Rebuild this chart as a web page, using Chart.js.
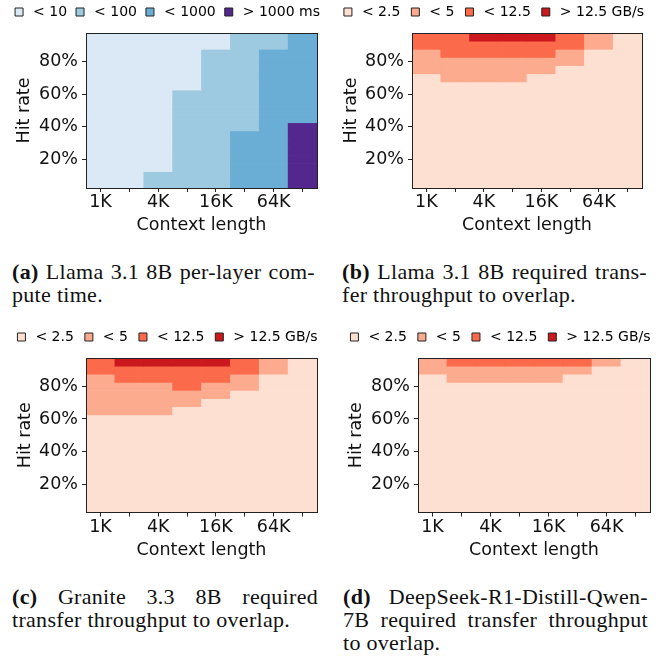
<!DOCTYPE html>
<html>
<head>
<meta charset="utf-8">
<script src="https://cdn.jsdelivr.net/npm/chart.js@4.4.1/dist/chart.umd.min.js"></script>
<style>
  html, body { margin: 0; padding: 0; background: #fff; }
  body { width: 660px; height: 663px; position: relative; overflow: hidden; }
  canvas { position: absolute; }
  .cap { position: absolute; font-family: "Liberation Serif", serif; font-size: 22px; line-height: 23px; color: #111; letter-spacing: 0.3px; }
  .cap div { text-align: left; }
  .cap .j { text-align: justify; text-align-last: justify; }
</style>
</head>
<body>
<canvas id="chartA" width="330" height="240" style="left:0;top:0"></canvas>
<canvas id="chartB" width="330" height="240" style="left:330px;top:0"></canvas>
<canvas id="chartC" width="330" height="240" style="left:0;top:325px"></canvas>
<canvas id="chartD" width="330" height="240" style="left:330px;top:325px"></canvas>

<div class="cap" style="left:12px;top:260px;width:303px">
  <div class="j"><b>(a)</b> Llama 3.1 8B per-layer com-</div>
  <div>pute time.</div>
</div>
<div class="cap" style="left:342px;top:260px;width:305px">
  <div class="j"><b>(b)</b> Llama 3.1 8B required trans-</div>
  <div>fer throughput to overlap.</div>
</div>
<div class="cap" style="left:12px;top:585px;width:306px">
  <div class="j"><b>(c)</b> Granite 3.3 8B required</div>
  <div>transfer throughput to overlap.</div>
</div>
<div class="cap" style="left:343px;top:585px;width:305px">
  <div class="j"><b>(d)</b> DeepSeek-R1-Distill-Qwen-</div>
  <div class="j">7B required transfer throughput</div>
  <div>to overlap.</div>
</div>

<script>
const contextLengths = ['1K', '2K', '4K', '8K', '16K', '32K', '64K', '128K'];
const contextTickLabels = ['1K', '4K', '16K', '64K'];
const hitRates = [95, 90, 85, 80, 75, 70, 65, 60, 55, 50, 45, 40, 35, 30, 25, 20, 15, 10, 5];
const hitRateTicks = [20, 40, 60, 80];

const computeBins = ['< 10', '< 100', '< 1000', '> 1000 ms'];
const throughputBins = ['< 2.5', '< 5', '< 12.5', '> 12.5 GB/s'];

// bin index of every cell: one string per hit-rate row (95% first),
// one digit per context length (1K ... 128K)
const llamaCompute = [
    '00000112', '00000112', '00001122', '00001122', '00001122', '00001122', '00001122',
    '00011122', '00011122', '00011122', '00011122', '00011123', '00011223', '00011223',
    '00011223', '00011223', '00011223', '00111223', '00111223'
];
const llamaTransfer = [
    '22333210', '22222210', '12222100', '11111100', '11111000', '01110000', '00000000',
    '00000000', '00000000', '00000000', '00000000', '00000000', '00000000', '00000000',
    '00000000', '00000000', '00000000', '00000000', '00000000'
];
const graniteTransfer = [
    '23333210', '22222210', '12222100', '11121100', '11111000', '11110000', '11100000',
    '00000000', '00000000', '00000000', '00000000', '00000000', '00000000', '00000000',
    '00000000', '00000000', '00000000', '00000000', '00000000'
];
const deepseekTransfer = [
    '12222210', '11111100', '01111000', '00000000', '00000000', '00000000', '00000000',
    '00000000', '00000000', '00000000', '00000000', '00000000', '00000000', '00000000',
    '00000000', '00000000', '00000000', '00000000', '00000000'
];

const blueColors = ['#dbe9f6', '#9ecae1', '#6aaed6', '#54278f'];
const redColors = ['#fee0d2', '#fcab8f', '#fb6a4a', '#cb181d'];

const FONT = "'DejaVu Sans', sans-serif";
const INK = '#111';
const SPINE = '#222';

function makeHeatmap(id, grid, bins, colors, lay) {
    const H = 240, W = 330;
    const legendPad = lay.legendPad;
    const padTop = 12 - 7 - legendPad;           // legend text centre at y=12
    const legendBottom = padTop + 24 + legendPad;

    const datasets = hitRates.map((h, r) => ({
        data: contextLengths.map(() => [h - 2.5, h + 2.5]),
        backgroundColor: grid[r].split('').map(c => colors[+c]),
        borderWidth: 0,
        grouped: false,
        barPercentage: 1,
        categoryPercentage: 1,
        xAxisID: 'x',
        yAxisID: 'y'
    }));

    new Chart(document.getElementById(id), {
        type: 'bar',
        data: { labels: contextLengths, datasets: datasets },
        options: {
            responsive: false,
            animation: false,
            events: [],
            layout: { padding: { left: lay.pl, right: lay.pr, top: padTop, bottom: 0 } },
            plugins: {
                tooltip: { enabled: false },
                legend: {
                    labels: {
                        usePointStyle: true,
                        pointStyle: 'rect',
                        boxWidth: 14,
                        boxHeight: 8,
                        padding: legendPad,
                        color: INK,
                        font: { family: FONT, size: 14 },
                        generateLabels: () => bins.map((b, i) => ({
                            text: b,
                            fillStyle: colors[i],
                            strokeStyle: SPINE,
                            lineWidth: 1,
                            pointStyle: 'rect',
                            hidden: false,
                            datasetIndex: i
                        }))
                    }
                }
            },
            scales: {
                x: {
                    type: 'category',
                    offset: true,
                    grid: { drawOnChartArea: false, drawTicks: true, tickLength: 4, tickColor: SPINE, tickWidth: 1, offset: false },
                    border: { display: true, color: SPINE, width: 1, z: 1 },
                    ticks: {
                        autoSkip: false, maxRotation: 0, padding: 0, color: INK,
                        font: { family: FONT, size: 17.5 },
                        callback: function (v) {
                            const l = this.getLabelForValue(v);
                            return contextTickLabels.includes(l) ? l : '';
                        }
                    },
                    title: { display: true, text: 'Context length', color: INK, font: { family: FONT, size: 17.5 }, padding: { top: 0, bottom: 4.5 } },
                    afterFit: s => { s.height = H - lay.bottom; }
                },
                y: {
                    type: 'linear',
                    min: 2.5,
                    max: 97.5,
                    afterBuildTicks: s => { s.ticks = hitRateTicks.map(v => ({ value: v })); },
                    grid: { drawOnChartArea: false, drawTicks: true, tickLength: 4, tickColor: SPINE, tickWidth: 1 },
                    border: { display: true, color: SPINE, width: 1, z: 1 },
                    ticks: { padding: 4, color: INK, font: { family: FONT, size: 17.5 }, callback: v => v + '%' },
                    title: { display: true, text: 'Hit rate', color: INK, font: { family: FONT, size: 17.5 }, padding: { top: lay.titlePad, bottom: 0 } },
                    afterFit: s => { s.width = lay.left - lay.pl; }
                },
                xTop: {
                    type: 'linear', axis: 'x', position: 'top', min: 0, max: 1,
                    ticks: { display: false },
                    grid: { display: false },
                    border: { display: true, color: SPINE, width: 1, z: 1 },
                    afterFit: s => { s.height = lay.top - legendBottom; }
                },
                yRight: {
                    type: 'linear', axis: 'y', position: 'right', min: 0, max: 1,
                    ticks: { display: false },
                    grid: { display: false },
                    border: { display: true, color: SPINE, width: 1, z: 1 },
                    afterFit: s => { s.width = W - lay.pr - lay.right; }
                }
            }
        }
    });
}

makeHeatmap('chartA', llamaCompute, computeBins, blueColors,
    { pl: 2, pr: 0, left: 86, right: 317, top: 33, bottom: 188, legendPad: 6, titlePad: 11.5 });
makeHeatmap('chartB', llamaTransfer, throughputBins, redColors,
    { pl: 0, pr: 5, left: 82, right: 312, top: 33, bottom: 188, legendPad: 8, titlePad: 10.5 });
makeHeatmap('chartC', graniteTransfer, throughputBins, redColors,
    { pl: 2, pr: 0, left: 86, right: 317, top: 33, bottom: 187.5, legendPad: 8, titlePad: 12.5 });
makeHeatmap('chartD', deepseekTransfer, throughputBins, redColors,
    { pl: 8, pr: 0, left: 88, right: 320, top: 33, bottom: 187.5, legendPad: 8, titlePad: 8 });
</script>
</body>
</html>
